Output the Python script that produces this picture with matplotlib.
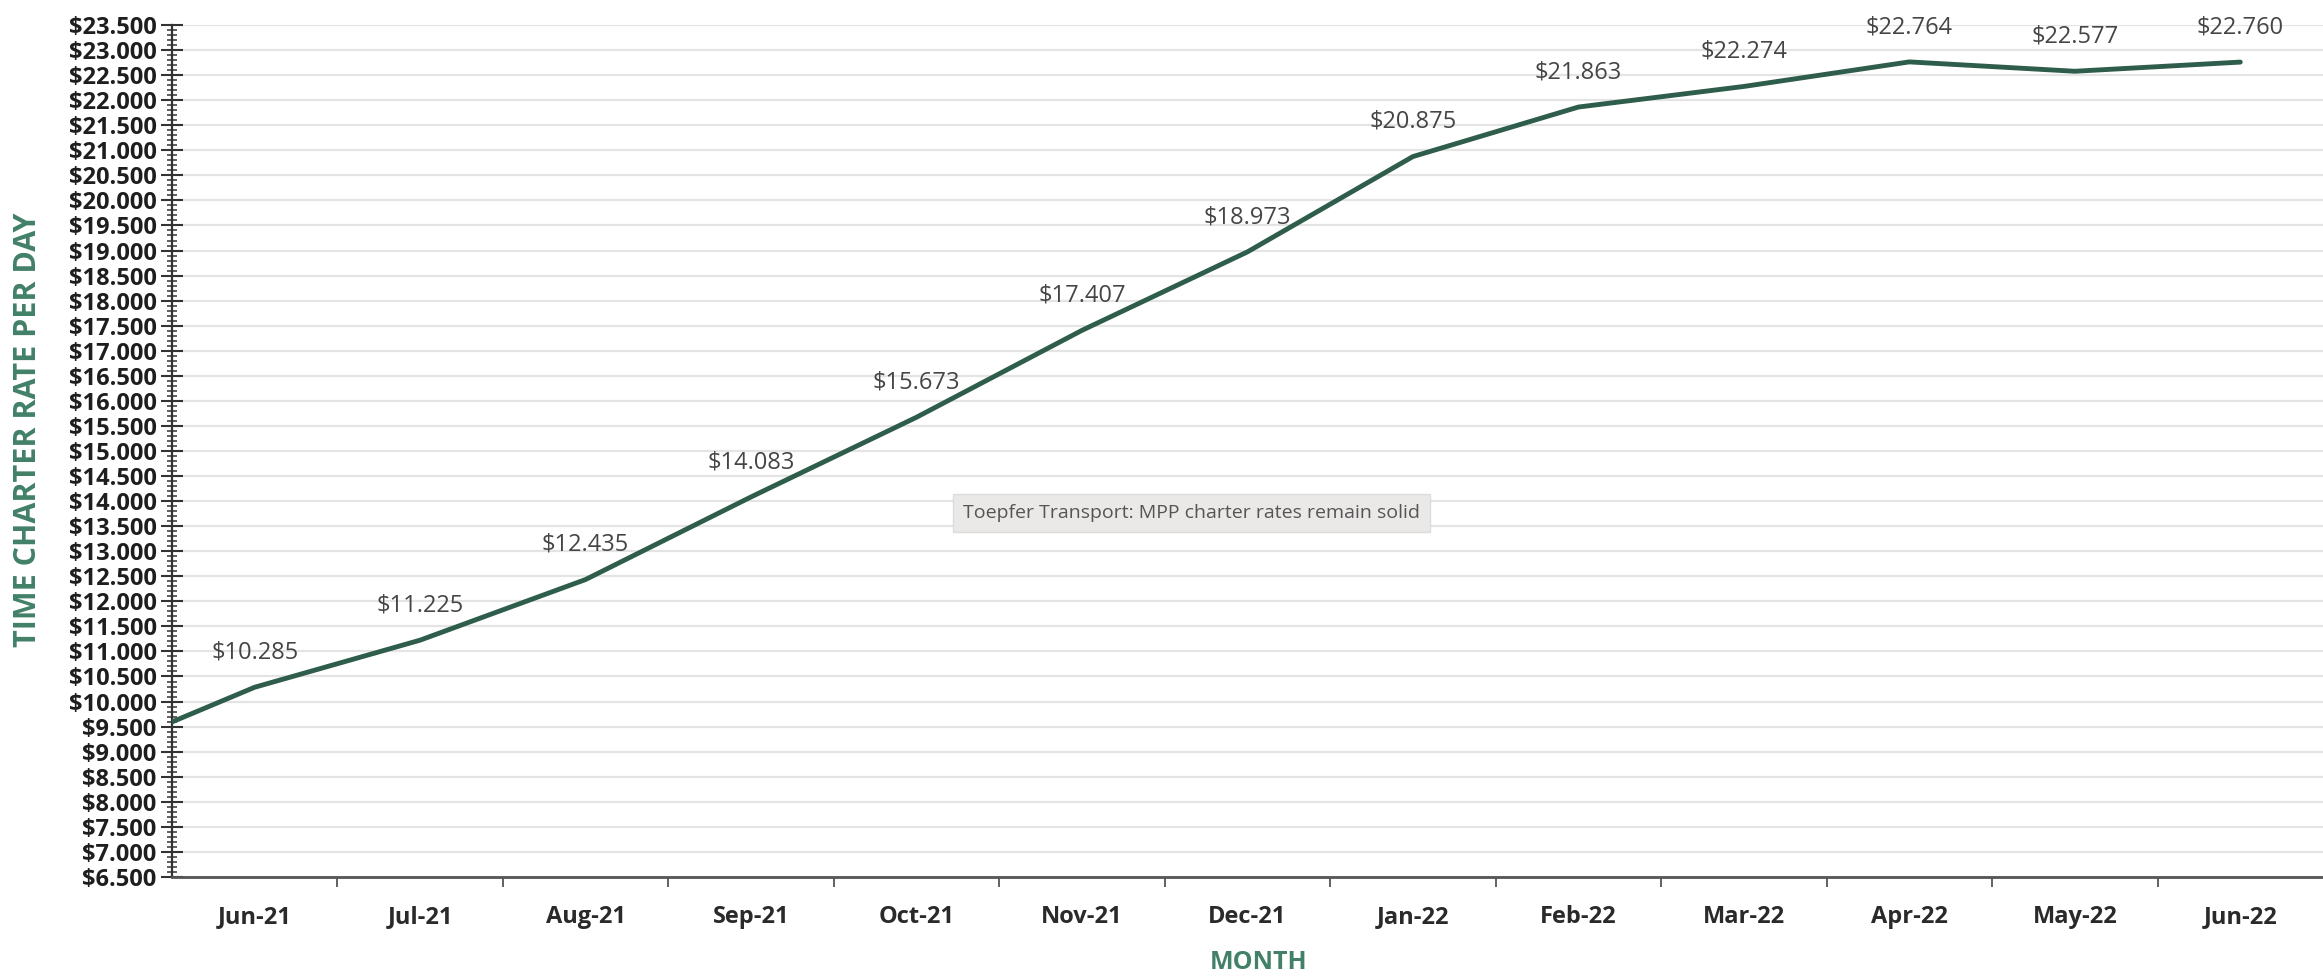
import numpy as np
import matplotlib
matplotlib.use("Agg")
import matplotlib.pyplot as plt
from matplotlib.ticker import MultipleLocator, FixedLocator, NullFormatter, FuncFormatter

# data
months = ["Jun-21", "Jul-21", "Aug-21", "Sep-21", "Oct-21", "Nov-21", "Dec-21",
          "Jan-22", "Feb-22", "Mar-22", "Apr-22", "May-22", "Jun-22"]
rates = [10285, 11225, 12435, 14083, 15673, 17407, 18973,
         20875, 21863, 22274, 22764, 22577, 22760]
# previous month (May-21), off the left edge of the axis, only the line shows
prev_rate = 8900

LINE = "#2f5d4b"
AXIS_TXT = "#428068"

plt.rcParams["font.family"] = ["Open Sans", "DejaVu Sans"]

fig = plt.figure(figsize=(23.23, 9.77), dpi=100)
ax = fig.add_axes([0.074, 0.1024, 0.926, 0.872])

xs = np.arange(-1, len(months))
ys = [prev_rate] + rates
ax.plot(xs, ys, color=LINE, lw=3.5, solid_joinstyle="round",
        solid_capstyle="round", zorder=3)

for i, v in enumerate(rates):
    label = "$" + f"{v:,}".replace(",", ".")
    ax.annotate(label, (i, v), xytext=(0, 25), textcoords="offset points",
                ha="center", va="center", fontsize=17, color="#454545",
                zorder=4)

ax.set_xlim(-0.5, len(months) - 0.5)
ax.set_ylim(6500, 23500)

# y axis
ax.yaxis.set_major_locator(MultipleLocator(500))
ax.yaxis.set_minor_locator(MultipleLocator(100))
ax.yaxis.set_major_formatter(FuncFormatter(
    lambda v, p: "$" + f"{int(v):,}".replace(",", ".")))
ax.tick_params(axis="y", which="major", direction="inout", length=16,
               width=1.5, color="#333333", labelsize=17, pad=3,
               labelcolor="#1e1e1e")
ax.tick_params(axis="y", which="minor", direction="inout", length=7,
               width=1.2, color="#444444")
for t in ax.get_yticklabels():
    t.set_fontweight("bold")

# x axis: ticks between categories, labels at centres
ax.xaxis.set_major_locator(FixedLocator(np.arange(0.5, len(months) - 0.5, 1)))
ax.xaxis.set_major_formatter(NullFormatter())
ax.xaxis.set_minor_locator(FixedLocator(np.arange(len(months))))
ax.set_xticklabels(months, minor=True, fontsize=17, fontweight="bold",
                   color="#2a2a2a")
ax.tick_params(axis="x", which="major", direction="out", length=7,
               width=1.3, color="#555555")
ax.tick_params(axis="x", which="minor", length=0, pad=20)

ax.grid(axis="y", which="major", color="#e4e4e4", lw=1.6, zorder=0)
ax.set_axisbelow(True)

for s in ["top", "right"]:
    ax.spines[s].set_visible(False)
ax.spines["left"].set_color("#333333")
ax.spines["left"].set_linewidth(1.6)
ax.spines["bottom"].set_color("#555555")
ax.spines["bottom"].set_linewidth(2)

ax.set_xlabel("MONTH", fontsize=18, fontweight="bold", color=AXIS_TXT,
              va="center")
ax.xaxis.set_label_coords(0.505, -0.1)
ax.set_ylabel("TIME CHARTER RATE PER DAY", fontsize=22, fontweight="bold",
              color=AXIS_TXT)
ax.yaxis.set_label_coords(-0.06, 0.525)

ax.text(0.474, 0.427, "Toepfer Transport: MPP charter rates remain solid",
        transform=ax.transAxes, ha="center", va="center", fontsize=14,
        color="#555555", zorder=5,
        bbox=dict(boxstyle="square,pad=0.5", facecolor="#ebe8e8",
                  edgecolor="#dcdcdc", lw=1))

fig.savefig("out.png", dpi=100, facecolor="white")
